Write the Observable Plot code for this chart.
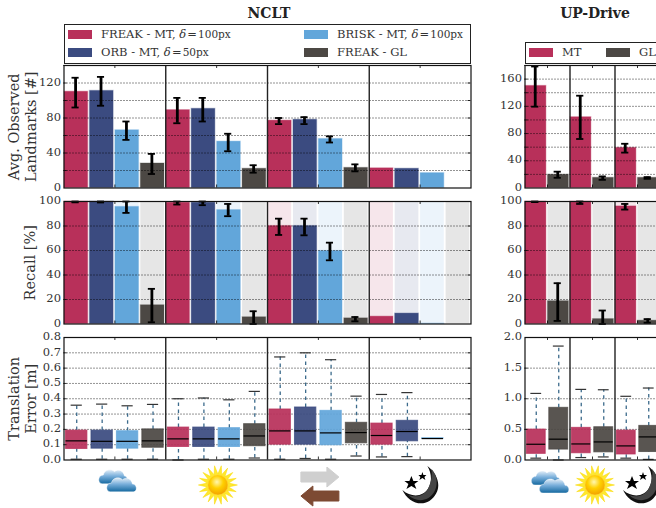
<!DOCTYPE html>
<html><head><meta charset="utf-8">
<script src="https://cdn.jsdelivr.net/npm/d3@7"></script>
<script src="https://cdn.jsdelivr.net/npm/@observablehq/plot@0.6"></script>
<style>
html,body{margin:0;padding:0;background:#fff;overflow:hidden;width:656px;height:508px}
#root{position:relative;width:656px;height:508px;overflow:hidden;font-family:"DejaVu Serif",serif;color:#222}
.abs{position:absolute}
.title{font-weight:bold;font-size:14px;line-height:17px;transform:translateX(-50%);white-space:nowrap;color:#222}
.legend{border:1.2px solid #222;box-sizing:border-box;background:#fff}
.sw{position:absolute;width:24px;height:9px;box-sizing:border-box}
.lt{position:absolute;font-size:11.5px;white-space:nowrap;line-height:13px;color:#333}
.lt small{font-size:10.5px}
svg{overflow:visible}
</style></head><body><div id="root"></div>
<script>
// Colours per series
const colFreak="#B8305A", colOrb="#3B4B80", colBrisk="#62A6DA", colGl="#4C4844";
const nclSeries=[colFreak,colOrb,colBrisk,colGl];
const upSeries=[colFreak,colGl];

// NCLT — cloudy, sunny, reverse, night; 4 descriptors each
const nclLandmarks=[110,111,66,28, 89,90.5,53,22, 77,78,56,23, 22.5,22,17,0];
const nclLandmarksLo=[92,94,55,16, 74,76,42,17.5, 73,73,52,19, null,null,null,null];
const nclLandmarksHi=[126,127,76,39, 103,103,62,26, 80,81,59,27, null,null,null,null];
const nclRecall=[100,100,95.6,15.3, 99,99,93,5.5, 80,80,59.6,4.6, 6,8.5,0.3,0];
const nclRecallLo=[99.3,99.2,90.7,1.4, 97.5,97,88,0, 72.7,72.4,52,2.2, null,null,null,null];
const nclRecallHi=[100,100,100,28.7, 100,100,98,10.4, 86,86,66.4,5.7, null,null,null,null];
const nclQ1=[.072,.074,.074,.08, .085,.085,.085,.09, .10,.10,.096,.109, .10,.122,.138];
const nclMed=[.125,.122,.122,.125, .138,.138,.138,.157, .19,.19,.177,.179, .16,.186,.14];
const nclQ3=[.192,.192,.188,.2, .212,.212,.208,.234, .33,.343,.321,.243, .238,.256,.142];
const nclLow=[.005,.005,.005,.005, 0,.005,.005,.013, .005,.01,.005,.026, .02,.022,null];
const nclHigh=[.358,.365,.354,.363, .40,.405,.393,.448, .673,.70,.655,.417, .428,.44,null];

// UP-Drive — cloudy, sunny, night; MT and GL each
const upLandmarks=[150,19.5, 104,15, 59,15];
const upLandmarksLo=[119.5,15, 72,12, 52,13.5];
const upLandmarksHi=[178.5,24, 135.6,17, 65,16];
const upRecall=[100,18.6, 100,4, 96,2.7];
const upRecallLo=[99.5,2.5, 98,0, 93.4,1];
const upRecallHi=[100,33.3, 100,11, 98,4];
const upQ1=[.10,.17, .11,.125, .09,.13];
const upMed=[.257,.34, .262,.295, .23,.377];
const upQ3=[.497,.852, .525,.535, .48,.557];
const upLow=[.03,0, .04,.05, .03,.01];
const upHigh=[1.087,1.86, 1.153,1.147, 1.04,1.175];

// Axes
const landmarkTicksL=[0,40,80,120], landmarkGridL=[20,40,60,80,100,120,140];
const landmarkTicksR=[0,40,80,120,160], landmarkGridR=[20,40,60,80,100,120,140,160,180];
const recallTicks=[0,20,40,60,80,100];
const errTicksL=[0,.1,.2,.3,.4,.5,.6,.7,.8], errTicksR=[0,.5,1,1.5,2];

const labelLandmarks=["Avg. Observed","Landmarks [#]"];
const labelRecall=["Recall [%]"];
const labelError=["Translation","Error [m]"];

// Icons
const defs=`<linearGradient id="c" x1="0" y1="0" x2="0" y2="1"><stop offset="0" stop-color="#e3eef8"/><stop offset=".45" stop-color="#79afdb"/><stop offset="1" stop-color="#14689f"/></linearGradient><radialGradient id="s" cx=".45" cy=".35" r=".7"><stop offset="0" stop-color="#fff7b0"/><stop offset=".45" stop-color="#ffd000"/><stop offset="1" stop-color="#f09a00"/></radialGradient>`;
const svgUri=(w,h,b)=>"data:image/svg+xml,"+encodeURIComponent(`<svg xmlns="http://www.w3.org/2000/svg" viewBox="0 0 ${w} ${h}" width="${w}" height="${h}"><defs>${defs}</defs>${b}</svg>`);
const cloudBody=(dx,dy,w)=>`<path transform="translate(${dx},${dy}) scale(1,1.1)" d="M4 15C-1 15 -1 7 5 7C6 2 13 1 16 4C20 1 25 3 26 8C${w+1} 8 ${w+1} 15 ${w-3} 15Z" fill="url(#c)" stroke="#fff" stroke-width=".4"/>`;
const cloudIcon=svgUri(40,26,cloudBody(1,0,29)+cloudBody(9,8,30));
const sunRays=d3.range(18).map(i=>{const a=i*Math.PI/9,b=Math.PI/18,p=(r,t)=>`${20+r*Math.cos(t)},${20+r*Math.sin(t)}`;return `${p(19.5,a)} ${p(11,a+b)}`}).join(" ");
const sunIcon=svgUri(40,40,`<polygon points="${sunRays}" fill="#ffe82e" stroke="#f8d800" stroke-width=".5"/><circle cx="20" cy="20" r="10" fill="url(#s)" stroke="#ffcc33" stroke-width=".6"/>`);
const arrowIcon=svgUri(40,40,`<path d="M1 5H27V0L39 10L27 20V15H1Z" fill="#cfcfcf" stroke="#cfcfcf" stroke-linejoin="round"/><path d="M39 24H13V19L1 29L13 39V34H39Z" fill="#7d4a33" stroke="#7d4a33" stroke-linejoin="round"/>`);
const moonIcon=svgUri(40,40,`<path d="M26 1C38 10 42 26 28 36C18 42 6 36 1 25C10 33 22 32 27 23C31 16 30 8 26 1Z" fill="#111"/><path d="M30 4C38 12 37 27 27 33C20 37 12 35 7 30C15 33 23 31 27 23C30 16 31 10 30 4Z" fill="#444"/><polygon points="10,11 12,16 17,16 13,19 15,24 10,21 5,24 7,19 3,16 8,16" fill="#000"/><polygon points="21,7 22,10 25,10 23,12 24,15 21,13 18,15 19,12 17,10 20,10" fill="#000"/>`);
const iconSrcL=[cloudIcon,sunIcon,arrowIcon,moonIcon];
const iconXL=[2.1,6.05,10.06,14.05];
const iconYL=[.6,.5,.457,.5];
const iconSrcR=[cloudIcon,sunIcon,moonIcon];
const iconXR=[1.11,3.11,5.2];
const iconYR=[.575,.5,.5];

const FONT='"DejaVu Serif",serif';
const root=document.getElementById("root");
function place(node,left,top){node.style.position="absolute";node.style.left=left+"px";node.style.top=top+"px";node.style.background="transparent";root.appendChild(node);}

// Shared panel frame: grid, separators, ticks, labels
function panelOpts(P){
  const top=P.yMax, n=P.n, gN=P.groupSize, seps=d3.range(gN,n,gN), mids=d3.range(gN/2,n,gN);
  const capY=top*3/122;
  const tickLen=n*3/P.w;
  const under=P.under||[], over=P.over||[];
  return {
    width:P.w+P.ml+P.mr, height:122.5+16, marginLeft:P.ml, marginRight:P.mr, marginTop:8, marginBottom:8,
    style:{fontFamily:FONT,fontSize:"11.5px",color:"#333",background:"transparent",overflow:"visible"},
    x:{domain:[0,n],axis:null},
    y:{domain:[0,top]},
    marks:[
      ...under,
      Plot.ruleY(P.grid,{stroke:"#000",strokeWidth:1,strokeDasharray:"1,2",strokeOpacity:.85}),
      ...over,
      Plot.ruleY(P.grid,{x1:0,x2:tickLen,stroke:"#000",strokeWidth:.8}),
      Plot.ruleY(P.grid,{x1:n-tickLen,x2:n,stroke:"#000",strokeWidth:.8}),
      Plot.ruleX(mids,{y1:top-capY,y2:top,stroke:"#000",strokeWidth:.8}),
      Plot.ruleX(mids,{y1:0,y2:capY,stroke:"#000",strokeWidth:.8}),
      Plot.ruleX(seps,{stroke:"#222",strokeWidth:1.4}),
      Plot.frame({stroke:"#111",strokeWidth:1.2}),
      Plot.axisY({ticks:P.ticks,tickSize:0,tickPadding:3,label:null,tickFormat:P.fmt,fontSize:11.5,dy:-1}),
      ...(P.label||[]).map((t,i,a)=>Plot.text([t],{text:d=>d,frameAnchor:"left",rotate:-90,textAnchor:"middle",
        fontSize:14.5,dx:a.length===1?-34:(i===0?-50:-33),fill:"#333"}))
    ]
  };
}
function rows(vals,colors){ return vals.map((v,i)=>({i,v,c:colors[i%colors.length]})); }

function barMarks(vals,lo,hi,colors,capHalf,opts={}){
  const data=rows(vals,colors);
  const marks={under:[],over:[]};
  if(opts.ghost) marks.under.push(Plot.rectY(data,{x1:d=>d.i+.02,x2:d=>d.i+.95,y1:0,y2:opts.ghost,
    fill:d=>d.c===colGl?"#d9d9d9":d.c,fillOpacity:d=>d.c===colGl?.65:.12,stroke:"none"}));
  marks.under.push(Plot.rectY(data.filter(d=>d.v>0),{x1:d=>d.i+.02,x2:d=>d.i+.95,y1:0,y2:"v",fill:"c",fillOpacity:1,
    stroke:"c",strokeOpacity:.3,strokeWidth:1.2}));
  const errs=data.filter(d=>lo[d.i]!=null);
  marks.over.push(Plot.ruleX(errs,{x:d=>d.i+.455,y1:d=>lo[d.i],y2:d=>hi[d.i],stroke:"#000",strokeWidth:2.8}));
  for(const arr of [lo,hi]) marks.over.push(Plot.ruleY(errs,{y:d=>arr[d.i],x1:d=>d.i+.455-capHalf,x2:d=>d.i+.455+capHalf,stroke:"#000",strokeWidth:1.8}));
  return marks;
}
function boxMarks(q1,med,q3,lo,hi,colors,capHalf){
  const data=rows(med,colors);
  const wh=data.filter(d=>lo[d.i]!=null);
  const cx=d=>d.i+.5;
  return {under:[],over:[
    Plot.ruleX(wh,{x:cx,y1:d=>q3[d.i],y2:d=>hi[d.i],stroke:"#3c6b8c",strokeWidth:1.3,strokeDasharray:"3.5,3.5"}),
    Plot.ruleX(wh,{x:cx,y1:d=>lo[d.i],y2:d=>q1[d.i],stroke:"#3c6b8c",strokeWidth:1.3,strokeDasharray:"3.5,3.5"}),
    Plot.ruleY(wh,{y:d=>hi[d.i],x1:d=>cx(d)-capHalf,x2:d=>cx(d)+capHalf,stroke:"#333",strokeWidth:1.2}),
    Plot.ruleY(wh,{y:d=>lo[d.i],x1:d=>cx(d)-capHalf,x2:d=>cx(d)+capHalf,stroke:"#333",strokeWidth:1.2}),
    Plot.rectY(data,{x1:d=>d.i+.08,x2:d=>d.i+.92,y1:d=>q1[d.i],y2:d=>q3[d.i],fill:"c",fillOpacity:.93,stroke:"c",strokeOpacity:.75,strokeWidth:1}),
    Plot.ruleY(data,{y:"v",x1:d=>d.i+.08,x2:d=>d.i+.92,stroke:"#000",strokeWidth:1.2})
  ]};
}

const L={w:407,ml:63.5,mr:9,n:16,groupSize:4,left:0}, R={w:135,ml:44.5,mr:5,n:6,groupSize:2,left:480};
const rowTop=[65,201,336.5];

// Row 1
let m=barMarks(nclLandmarks,nclLandmarksLo,nclLandmarksHi,nclSeries,.14);
place(Plot.plot(panelOpts({...L,yMax:140,grid:landmarkGridL,ticks:landmarkTicksL,fmt:d3.format("d"),label:labelLandmarks,...m})),L.left,rowTop[0]-8);
m=barMarks(upLandmarks,upLandmarksLo,upLandmarksHi,upSeries,.16);
place(Plot.plot(panelOpts({...R,yMax:180,grid:landmarkGridR,ticks:landmarkTicksR,fmt:d3.format("d"),...m})),R.left,rowTop[0]-8);
// Row 2
m=barMarks(nclRecall,nclRecallLo,nclRecallHi,nclSeries,.14,{ghost:100});
place(Plot.plot(panelOpts({...L,yMax:100,grid:recallTicks.slice(1,-1),ticks:recallTicks,fmt:d3.format("d"),label:labelRecall,...m})),L.left,rowTop[1]-8);
m=barMarks(upRecall,upRecallLo,upRecallHi,upSeries,.16,{ghost:100});
place(Plot.plot(panelOpts({...R,yMax:100,grid:recallTicks.slice(1,-1),ticks:recallTicks,fmt:d3.format("d"),...m})),R.left,rowTop[1]-8);
// Row 3
m=boxMarks(nclQ1,nclMed,nclQ3,nclLow,nclHigh,nclSeries,.22);
place(Plot.plot(panelOpts({...L,yMax:.8,grid:errTicksL.slice(1,-1),ticks:errTicksL,fmt:d3.format(".1f"),label:labelError,...m})),L.left,rowTop[2]-8);
m=boxMarks(upQ1,upMed,upQ3,upLow,upHigh,upSeries,.24);
place(Plot.plot(panelOpts({...R,yMax:2,grid:errTicksR.slice(1,-1),ticks:errTicksR,fmt:d3.format(".1f"),...m})),R.left,rowTop[2]-8);

// Icon strips under the panels, on the same x scales
function iconStrip(P,xs,ys,srcs){
  return Plot.plot({width:P.w+P.ml+P.mr,height:47,marginLeft:P.ml,marginRight:P.mr,marginTop:0,marginBottom:0,
    style:{background:"transparent",overflow:"visible"},x:{domain:[0,P.n],axis:null},y:{domain:[0,1],axis:null},
    marks:[Plot.image(xs.map((x,i)=>({x,y:ys[i],src:srcs[i]})),{x:"x",y:"y",src:"src",width:40,height:40,preserveAspectRatio:"xMidYMid meet"})]});
}
place(iconStrip(L,iconXL,iconYL,iconSrcL),L.left,461);
place(iconStrip(R,iconXR,iconYR,iconSrcR),R.left,461);

// Titles and legends
function addEl(cls,html,css){const e=document.createElement("div");e.className="abs "+cls;e.innerHTML=html;Object.assign(e.style,css);root.appendChild(e);return e;}
addEl("title","NCLT",{left:"269px",top:"5px"});
addEl("title","UP-Drive",{left:"595px",top:"5px"});
addEl("legend","",{left:"64px",top:"24px",width:"407px",height:"39.5px"});
addEl("legend","",{left:"525px",top:"42px",width:"140px",height:"21.5px"});
const d100='<i>δ</i>\u200a=\u200a<small>100px</small>', d50='<i>δ</i>\u200a=\u200a<small>50px</small>';
const legendItems=[
 [68,30,101,colFreak,"FREAK - MT, "+d100],
 [68,48,101,colOrb,"ORB - MT, "+d50],
 [304,30,337,colBrisk,"BRISK - MT, "+d100],
 [304,48,337,colGl,"FREAK - GL"],
 [529,48,562,colFreak,"MT"],
 [606,48,639,colGl,"GL"]
];
for(const [sx,sy,tx,c,t] of legendItems){
  addEl("sw","",{left:sx+"px",top:sy+"px",background:c,border:"1px solid "+c});
  addEl("lt",t,{left:tx+"px",top:(sy-2)+"px"});
}
</script></body></html>
